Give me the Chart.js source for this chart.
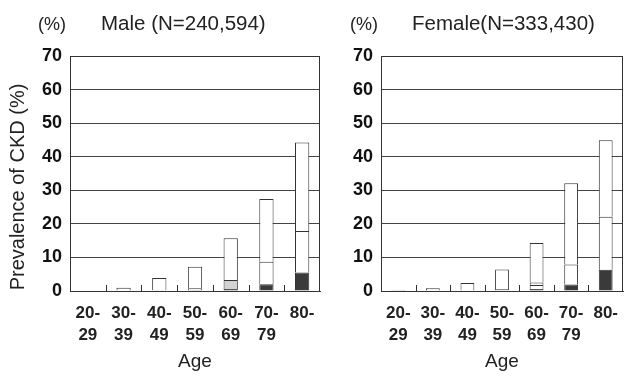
<!DOCTYPE html>
<html lang="en">
<head>
  <meta charset="UTF-8" />
  <title>Prevalence of CKD by age</title>
  <script src="https://cdn.jsdelivr.net/npm/chart.js"></script>
  <style>
    body {
      margin: 0;
      padding: 0;
      background: #fff;
      overflow: hidden;
      font-family: 'Liberation Sans', Arial, sans-serif;
    }
    .wrap {
      position: absolute;
      top: 0;
    }
    #leftWrap { left: 0; width: 335px; height: 377px; }
    #rightWrap { left: 335px; width: 289px; height: 377px; overflow: hidden; }
  </style>
</head>
<body>

  <div class="wrap" id="leftWrap"><canvas id="maleChart" width="335" height="377"></canvas></div>
  <div class="wrap" id="rightWrap"><canvas id="femaleChart" width="290" height="377"></canvas></div>

  <script>
    // age groups (two-line tick labels)
    const ageGroups = [['20-', '29'], ['30-', '39'], ['40-', '49'], ['50-', '59'], ['60-', '69'], ['70-', '79'], ['80-', '']];
    const yTicks = [0, 10, 20, 30, 40, 50, 60, 70];

    // Male stacks, bottom to top (%)
    const maleDark   = [0, 0, 0, 0, 0.6, 2.0, 5.5];
    const maleDotted = [0, 0, 0, 0.3, 2.7, 0, 0];
    const maleLower  = [0, 0, 0.2, 0.5, 0, 6.7, 12.4];
    const maleUpper  = [0, 1.0, 3.7, 6.4, 12.4, 18.7, 26.3];

    // Female stacks, bottom to top (%)
    const femaleDark   = [0, 0, 0, 0, 0.6, 1.9, 6.3];
    const femaleDotted = [0, 0, 0, 0.2, 1.2, 0, 0];
    const femaleLower  = [0, 0, 0, 0.4, 0.7, 6.0, 15.8];
    const femaleUpper  = [0.3, 0.8, 2.4, 5.8, 11.8, 24.2, 22.8];

    const FONT = "'Liberation Sans', Arial, sans-serif";

    // frame around the plot, small inward ticks between age groups, header and y title
    const framePlugin = {
      id: 'frame',
      afterDatasetsDraw(chart, args, opts) {
        const ctx = chart.ctx;
        const a = chart.chartArea;
        const x = chart.scales.x;
        ctx.save();
        ctx.strokeStyle = '#333';
        ctx.lineWidth = 1;
        ctx.strokeRect(a.left + 0.5, a.top + 0.5, a.right - a.left - 1, a.bottom - a.top);
        ctx.beginPath();
        for (let i = 0; i < ageGroups.length - 1; i++) {
          const px = Math.round((x.getPixelForValue(i) + x.getPixelForValue(i + 1)) / 2) + 0.5;
          ctx.moveTo(px, a.bottom);
          ctx.lineTo(px, a.bottom - 6);
        }
        ctx.stroke();

        ctx.fillStyle = '#222';
        ctx.textBaseline = 'middle';
        ctx.font = '18px ' + FONT;
        ctx.textAlign = 'left';
        ctx.fillText('(%)', opts.pctX, 25);
        ctx.font = '20.5px ' + FONT;
        ctx.fillText(opts.title, opts.titleX, 24);

        if (opts.yTitle) {
          ctx.translate(18, 187);
          ctx.rotate(-Math.PI / 2);
          ctx.textAlign = 'center';
          ctx.font = '20px ' + FONT;
          ctx.fillText(opts.yTitle, 0, 0);
        }
        ctx.restore();
      }
    };

    function makeChart(id, dark, dotted, lower, upper, cfg) {
      const common = {
        borderColor: '#333',
        borderWidth: c => (c.raw ? { top: 1, left: 1, right: 1, bottom: 0 } : 0),
        borderSkipped: false,
        barPercentage: 0.4,
        categoryPercentage: 1.0
      };
      return new Chart(document.getElementById(id), {
        type: 'bar',
        data: {
          labels: ageGroups,
          datasets: [
            Object.assign({ label: 'dark', data: dark, backgroundColor: '#3a3a3a' }, common),
            Object.assign({ label: 'dotted', data: dotted, backgroundColor: cfg.dottedColor }, common),
            Object.assign({ label: 'lower', data: lower, backgroundColor: '#ffffff' }, common),
            Object.assign({ label: 'upper', data: upper, backgroundColor: '#ffffff' }, common)
          ]
        },
        options: {
          responsive: false,
          animation: false,
          layout: { padding: { top: 56, right: cfg.padRight, left: 0, bottom: 0 } },
          plugins: {
            legend: { display: false },
            tooltip: { enabled: false },
            frame: { pctX: cfg.pctX, title: cfg.title, titleX: cfg.titleX, yTitle: cfg.yTitle }
          },
          scales: {
            x: {
              stacked: true,
              grid: { display: false },
              border: { color: '#333' },
              ticks: {
                color: '#222',
                font: { family: FONT, size: 17, weight: 'bold', lineHeight: 1.3 },
                padding: 3,
                maxRotation: 0,
                autoSkip: false
              },
              title: {
                display: true,
                text: 'Age',
                color: '#222',
                font: { family: FONT, size: 19 },
                padding: { top: 15 }
              },
              afterFit(scale) {
                scale.height = 86;
              }
            },
            y: {
              stacked: true,
              min: 0,
              max: 70,
              afterBuildTicks(scale) { scale.ticks = yTicks.map(v => ({ value: v })); },
              grid: { color: '#444', lineWidth: 1, drawTicks: false },
              border: { color: '#333' },
              ticks: {
                color: '#111',
                font: { family: FONT, size: 18, weight: 'bold' },
                padding: 8
              },
              afterFit(scale) { scale.width = cfg.yWidth; }
            }
          }
        },
        plugins: [framePlugin]
      });
    }

    makeChart('maleChart', maleDark, maleDotted, maleLower, maleUpper, {
      dottedColor: '#d2d2d2', padRight: 15, yWidth: 70,
      yTitle: 'Prevalence of CKD (%)',
      pctX: 38, title: 'Male (N=240,594)', titleX: 101
    });

    makeChart('femaleChart', femaleDark, femaleDotted, femaleLower, femaleUpper, {
      dottedColor: '#ffffff', padRight: 2, yWidth: 46, yTitle: '',
      pctX: 15, title: 'Female(N=333,430)', titleX: 77
    });
  </script>
</body>
</html>
